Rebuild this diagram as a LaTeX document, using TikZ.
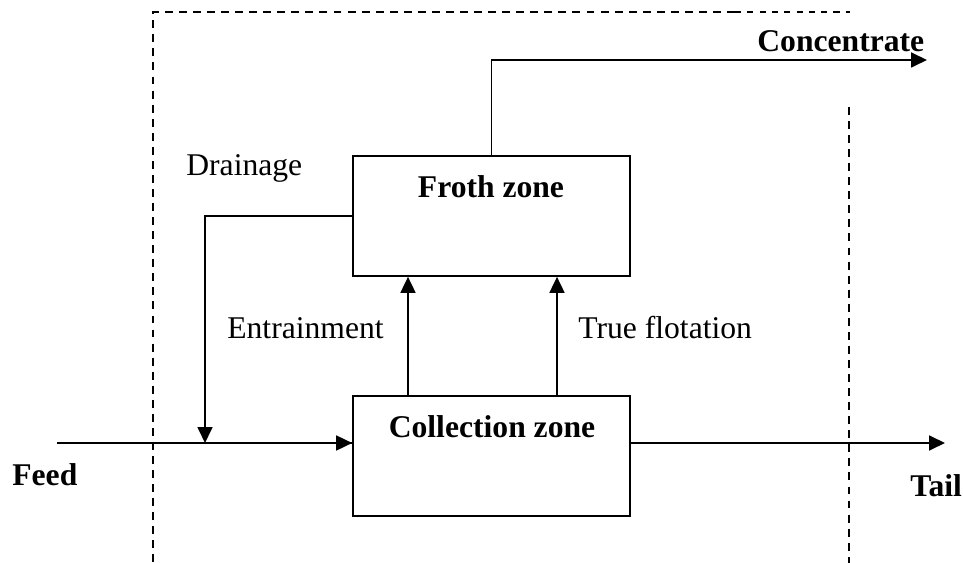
\documentclass[tikz,border=0pt]{standalone}
\usepackage{fontspec}
\setmainfont{Liberation Serif}
\usetikzlibrary{arrows.meta,calc}
\tikzset{
  zone/.style={draw,line width=1pt,minimum width=5.54cm,minimum height=2.4cm,inner sep=0},
  lbl/.style={inner sep=0,font=\fontsize{18}{22}\selectfont},
  blbl/.style={lbl,font=\fontsize{18}{22}\selectfont\bfseries},
  flow/.style={line width=1pt,-{Triangle[length=.32cm,width=.3cm]}},
  bound/.style={line width=1pt,dash pattern=on 4.5pt off 3.5pt}
}
\begin{document}
\begin{tikzpicture}[x=.02cm,y=-.02cm]
\useasboundingbox(0,0)rectangle(963,563);
% boundary of the cell
\draw[bound](735,12)--(153,12)--(153,563);
\draw[bound,line width=.6pt,dash pattern=on 3.5pt off 3.5pt](735,12)--(850,12);
\draw[bound](849,107)--(849,563);
% zones
\node[zone](froth)at(491.5,216){};
\node[zone](coll)at(491.5,456){};
\node[blbl,anchor=base]at(491,198){Froth zone};
\node[blbl,anchor=base]at(492,438){Collection zone};
% streams
\coordinate(feedin)at(57,443);\coordinate(tailout)at(945,443);
\coordinate(join)at(205,443);\coordinate(concout)at(927,60);
\draw[flow](feedin)--(coll.west|-feedin);
\draw[line width=1pt](join)--(coll.west|-feedin);
\draw[flow](coll.east|-feedin)--(tailout);
\draw[flow](froth.west)-|(join);
\draw[flow](froth.north)|-(concout);
\draw[flow]($(coll.north)+(-83.5,0)$)--($(froth.south)+(-83.5,0)$);
\draw[flow]($(coll.north)+(65.5,0)$)--($(froth.south)+(65.5,0)$);
% labels
\node[blbl,anchor=base west]at(757,52){Concentrate};
\node[lbl,anchor=base west]at(186,176){Drainage};
\node[lbl,anchor=base west]at(227,339){Entrainment};
\node[lbl,anchor=base west]at(578,339){True flotation};
\node[blbl,anchor=base west]at(12,485){Feed};
\node[blbl,anchor=base west]at(910,497){Tail};
\end{tikzpicture}
\end{document}
